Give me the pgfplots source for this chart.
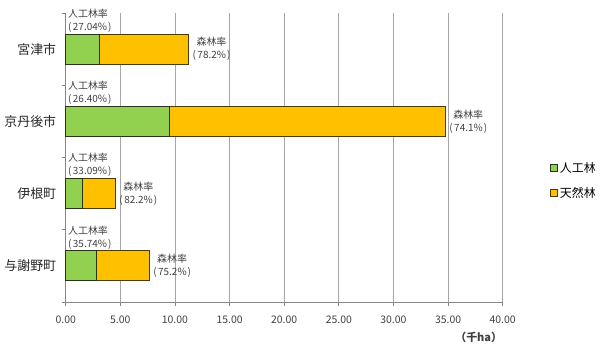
\documentclass[border=0pt]{standalone}
\usepackage{pgfplots}
\pgfplotsset{compat=1.18}
\usepackage{fontspec}
\setmainfont{Noto Sans CJK JP}
\definecolor{gr}{HTML}{92D050}
\definecolor{og}{HTML}{FFC000}
\definecolor{gridc}{HTML}{A6A6A6}
\definecolor{axc}{HTML}{868686}
\definecolor{txt}{HTML}{404040}
\newcommand{\lp}{(\kern1.5bp}
\newcommand{\rp}{\kern1bp)}
\begin{document}
\begin{tikzpicture}
\path[use as bounding box] (0,0) rectangle (611bp,359bp);
\begin{axis}[
  at={(65.7bp,57bp)}, anchor=south west,
  scale only axis, width=437bp, height=289bp,
  xbar stacked, bar width=30bp,
  xmin=0, xmax=40, ymin=-0.5, ymax=3.5,
  xtick={0,5,...,40},
  xticklabels={0.00,5.00,10.00,15.00,20.00,25.00,30.00,35.00,40.00},
  xmajorgrids, grid style={gridc, line width=0.8pt},
  axis x line*=bottom, axis y line*=left,
  axis line style={axc, line width=0.8pt},
  tick align=outside,
  tick style={axc, line width=0.8pt},
  major tick length=4bp,
  ytick={-0.5,0.5,1.5,2.5,3.5},
  yticklabels={},
  extra y ticks={0,1,2,3},
  extra y tick labels={与謝野町,伊根町,京丹後市,宮津市},
  extra y tick style={major tick length=0pt, yticklabel style={font=\fontsize{13}{15}\selectfont, text=black!85, xshift=-6bp}},
  xticklabel style={font=\fontsize{10.5}{12}\selectfont, text=txt, yshift=-6bp},
  legend style={at={(1.108,0.42)}, anchor=west, draw=none, fill=none,
    font=\fontsize{12}{14}\selectfont, row sep=9bp, inner sep=0pt},
  legend cell align=left,
  legend image code/.code={\draw[#1] (0bp,-3.5bp) rectangle (7bp,3.5bp);},
  clip=false,
]
\addplot[fill=gr, draw=black!75!gr, line width=0.8pt] coordinates {(2.8,0) (1.55,1) (9.45,2) (3.1,3)};
\addplot[fill=og, draw=black!70!og, line width=0.8pt] coordinates {(4.88,0) (3.02,1) (25.31,2) (8.15,3)};
\legend{人工林,天然林}
\node[anchor=south west, align=left, font=\fontsize{10}{13}\selectfont, text=txt, inner sep=0pt] at (axis cs:0.2,3.23) {人工林率\\\lp 27.04\%\rp};
\node[anchor=south west, align=left, font=\fontsize{10}{13}\selectfont, text=txt, inner sep=0pt] at (axis cs:0.2,2.23) {人工林率\\\lp 26.40\%\rp};
\node[anchor=south west, align=left, font=\fontsize{10}{13}\selectfont, text=txt, inner sep=0pt] at (axis cs:0.2,1.23) {人工林率\\\lp 33.09\%\rp};
\node[anchor=south west, align=left, font=\fontsize{10}{13}\selectfont, text=txt, inner sep=0pt] at (axis cs:0.2,0.23) {人工林率\\\lp 35.74\%\rp};
\node[anchor=west, align=center, font=\fontsize{10}{13}\selectfont, text=txt, inner sep=0pt] at (axis cs:11.6,3) {森林率\\\lp 78.2\%\rp};
\node[anchor=west, align=center, font=\fontsize{10}{13}\selectfont, text=txt, inner sep=0pt] at (axis cs:35.1,2) {森林率\\\lp 74.1\%\rp};
\node[anchor=west, align=center, font=\fontsize{10}{13}\selectfont, text=txt, inner sep=0pt] at (axis cs:4.9,1) {森林率\\\lp 82.2\%\rp};
\node[anchor=west, align=center, font=\fontsize{10}{13}\selectfont, text=txt, inner sep=0pt] at (axis cs:8.0,0) {森林率\\\lp 75.2\%\rp};
\node[anchor=north, font=\fontsize{11}{13}\selectfont\bfseries, text=txt, inner sep=0pt] at (axis cs:37.8,-0.5) [yshift=-30bp] {（千ha）};
\end{axis}
\end{tikzpicture}
\end{document}
